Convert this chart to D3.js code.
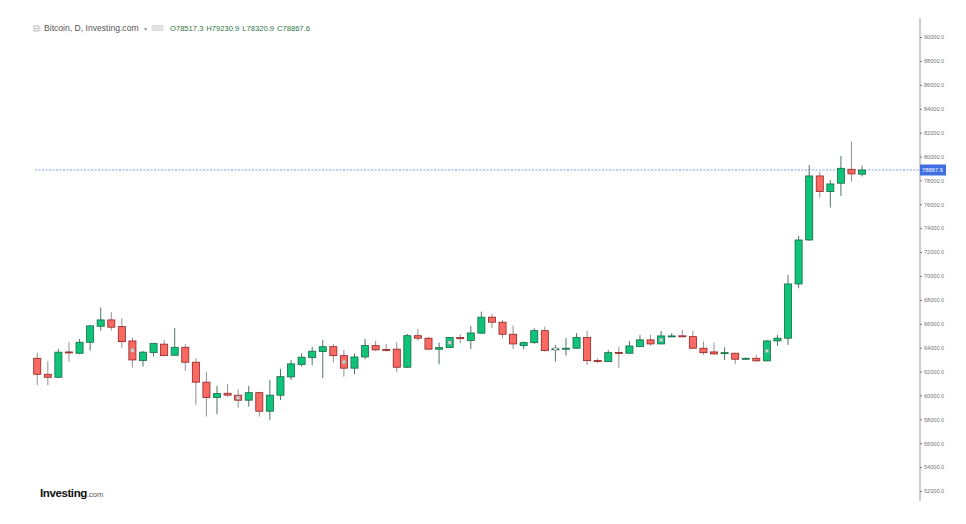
<!DOCTYPE html>
<html>
<head>
<meta charset="utf-8">
<script src="https://cdn.jsdelivr.net/npm/d3@7"></script>
<style>
  body { margin: 0; background: #fff; }
  text { font-family: "Liberation Sans", Arial, sans-serif; }
</style>
</head>
<body>
<div id="chart"></div>
<script>
var svgWidth = 966;
var svgHeight = 524;

// daily candles (79 sessions)
var opens = [63110, 61770, 61520, 63640, 63530, 64450, 65790, 66320, 65760, 64560,
  62910, 63580, 64290, 63360, 64030, 62780, 61110, 59820, 60180, 60020,
  59600, 60230, 58680, 60020, 61550, 62580, 63160, 63670, 64080, 63330,
  62280, 63220, 64170, 63850, 63870, 62360, 65000, 64790, 63870, 64000,
  64840, 64590, 65210, 66550, 66130, 65120, 64170, 64420, 65420, 63850,
  63930, 63950, 64840, 62930, 62830, 63600, 63530, 64080, 64650, 64310,
  64950, 64990, 64920, 63950, 63640, 63540, 63530, 63030, 63110, 62890,
  64560, 64790, 69330, 73010, 78370, 77060, 77760, 78930, 78517.3];
var highs = [63580, 62860, 63890, 64450, 64730, 65900, 67350, 66990, 66460, 64840,
  63730, 64420, 64650, 65620, 64310, 63110, 61970, 60800, 60960, 60520,
  60800, 60320, 61300, 62220, 62970, 63530, 64080, 64650, 64290, 63810,
  63530, 64730, 64560, 64310, 64450, 65150, 65570, 64880, 64420, 64870,
  65120, 65820, 67010, 66820, 66320, 65840, 64500, 65620, 65760, 64230,
  64790, 65210, 65400, 63110, 63810, 64080, 64560, 65060, 65060, 65400,
  65210, 65480, 65420, 64500, 64420, 64030, 63580, 63150, 63390, 64650,
  65060, 70080, 73350, 79290, 78730, 78030, 80040, 81240, 79230.9];
var lows = [60850, 60850, 61480, 62830, 63450, 63750, 65420, 65420, 64000, 62330,
  62410, 63250, 63300, 63330, 62050, 59210, 58230, 58430, 59900, 58980,
  59060, 58230, 57950, 59620, 61300, 62410, 62530, 61440, 62750, 61570,
  61770, 63030, 63730, 63670, 61940, 62300, 64560, 63830, 62610, 63970,
  64370, 63870, 65150, 65620, 64790, 63870, 63870, 64310, 63670, 62830,
  63330, 63900, 62550, 62700, 62800, 62330, 63500, 64050, 64170, 64280,
  64930, 64870, 63900, 63390, 63430, 62970, 62610, 63000, 62830, 62850,
  64140, 64230, 68970, 72950, 76550, 75720, 76700, 77890, 78320.9];
var closes = [61770, 61520, 63620, 63600, 64450, 65820, 66320, 65710, 64500, 62970,
  63620, 64340, 63330, 64030, 62780, 61110, 59820, 60150, 60020, 59600,
  60230, 58680, 60020, 61570, 62640, 63200, 63700, 64080, 63330, 62280,
  63220, 64170, 63810, 63820, 62360, 65000, 64790, 63870, 64000, 64840,
  64750, 65230, 66550, 66130, 65120, 64310, 64420, 65420, 63750, 63900,
  63950, 64840, 62910, 62880, 63580, 63560, 64140, 64650, 64310, 64980,
  64980, 64950, 63950, 63580, 63470, 63580, 63030, 63110, 62890, 64560,
  64790, 69330, 73010, 78370, 77060, 77700, 79010, 78540, 78867.6];
// candles carrying the small grey chart marker
var markedDays = [9, 19, 29, 39, 49, 59, 69];
var yTicks = [52000, 54000, 56000, 58000, 60000, 62000, 64000, 66000, 68000,
  70000, 72000, 74000, 76000, 78000, 80000, 82000, 84000, 86000, 88000, 90000];
var lastPrice = 78867.6;
var headerName = "Bitcoin, D, Investing.com";
var headerOHLC = ["O78517.3", "H79230.9", "L78320.9", "C78867.6"];

var candles = opens.map(function(o, i) {
  return { i: i, open: o, high: highs[i], low: lows[i], close: closes[i] };
});

var svg = d3.select("#chart").append("svg")
  .attr("width", svgWidth).attr("height", svgHeight);

var axisX = 920;

var x = d3.scaleBand().domain(candles.map(d => d.i)).range([33.7, 865.6]).paddingInner(0.33);
var y = d3.scaleLinear().domain([52000, 90000]).range([491, 37]);

// price axis
svg.append("line").attr("x1", axisX).attr("x2", axisX).attr("y1", 18).attr("y2", 501)
  .attr("stroke", "#9a9a9a").attr("stroke-width", 1);

var rightAxis = d3.axisRight(y).tickValues(yTicks).tickSize(2).tickPadding(2)
  .tickFormat(d3.format(".1f"));
var axisG = svg.append("g").attr("transform", `translate(${axisX}, 0)`).call(rightAxis);
axisG.select(".domain").remove();
axisG.selectAll(".tick line").attr("stroke", "#777");
axisG.selectAll(".tick text").attr("fill", "#777").style("font-size", "5.6px")
  .style("font-family", "Liberation Sans, Arial, sans-serif");

// current price line
svg.append("line").attr("x1", 35).attr("x2", axisX).attr("y1", y(lastPrice)).attr("y2", y(lastPrice))
  .attr("stroke", "#5a86ee").attr("stroke-width", 0.8).attr("stroke-dasharray", "2,1.5");

var candleG = svg.append("g");
var cw = x.bandwidth();

candleG.selectAll(".wick").data(candles).enter().append("line").attr("class", "wick")
  .attr("x1", d => x(d.i) + cw / 2).attr("x2", d => x(d.i) + cw / 2)
  .attr("y1", d => y(d.high)).attr("y2", d => y(d.low))
  .attr("stroke", d => d.close >= d.open ? "#4f7564" : "#9a8f8f").attr("stroke-width", 1);

candleG.selectAll(".body").data(candles).enter().append("rect").attr("class", "body")
  .attr("x", d => x(d.i)).attr("width", cw)
  .attr("y", d => y(Math.max(d.open, d.close)))
  .attr("height", d => Math.max(1, Math.abs(y(d.open) - y(d.close))))
  .attr("fill", d => d.close >= d.open ? "#0fc47a" : "#fa6a63")
  .attr("stroke", d => d.close >= d.open ? "#166b45" : "#8e2424").attr("stroke-width", 0.8);

candleG.selectAll(".mark").data(candles.filter(d => markedDays.indexOf(d.i) >= 0)).enter()
  .append("rect").attr("class", "mark")
  .attr("x", d => x(d.i) + cw / 2 - 1.6).attr("width", 3.2)
  .attr("y", d => y((d.open + d.close) / 2) - 1.6).attr("height", 3.2)
  .attr("fill", "#d8d8d8").attr("stroke", "#9c9c9c").attr("stroke-width", 0.5);

// last price tag
svg.append("rect").attr("x", axisX).attr("y", y(lastPrice) - 5.5).attr("width", 26).attr("height", 11)
  .attr("fill", "#3f6fe3");
svg.append("text").attr("x", axisX + 2).attr("y", y(lastPrice) + 2).attr("fill", "#fff")
  .style("font-size", "5.8px").text(d3.format(".1f")(lastPrice));

// header
var header = svg.append("g");
header.append("rect").attr("x", 34).attr("y", 26).attr("width", 5).attr("height", 5)
  .attr("fill", "none").attr("stroke", "#888").attr("stroke-width", 0.6);
header.append("line").attr("x1", 35).attr("x2", 38).attr("y1", 28.5).attr("y2", 28.5)
  .attr("stroke", "#888").attr("stroke-width", 0.6);
header.append("text").attr("x", 44).attr("y", 31).attr("fill", "#555").style("font-size", "8.6px")
  .text(headerName);
header.append("text").attr("x", 144).attr("y", 31).attr("fill", "#999").style("font-size", "6px").text("\u25BE");
[152, 158].forEach(function(px) {
  header.append("rect").attr("x", px).attr("y", 25.5).attr("width", 5).attr("height", 5)
    .attr("fill", "#e4e4e4").attr("stroke", "#c8c8c8").attr("stroke-width", 0.5);
});
var ohlcText = header.append("text").attr("x", 170).attr("y", 31).attr("fill", "#2a7538")
  .style("font-size", "7.6px");
headerOHLC.forEach(function(s, k) {
  ohlcText.append("tspan").attr("dx", k === 0 ? 0 : 3).text(s);
});

// logo
var logo = svg.append("text").attr("x", 40).attr("y", 497);
logo.append("tspan").attr("fill", "#111").style("font-size", "11.5px").style("font-weight", "bold")
  .style("letter-spacing", "-0.4px").text("Investing");
logo.append("tspan").attr("fill", "#555").style("font-size", "7.5px").text(".com");
</script>
</body>
</html>
